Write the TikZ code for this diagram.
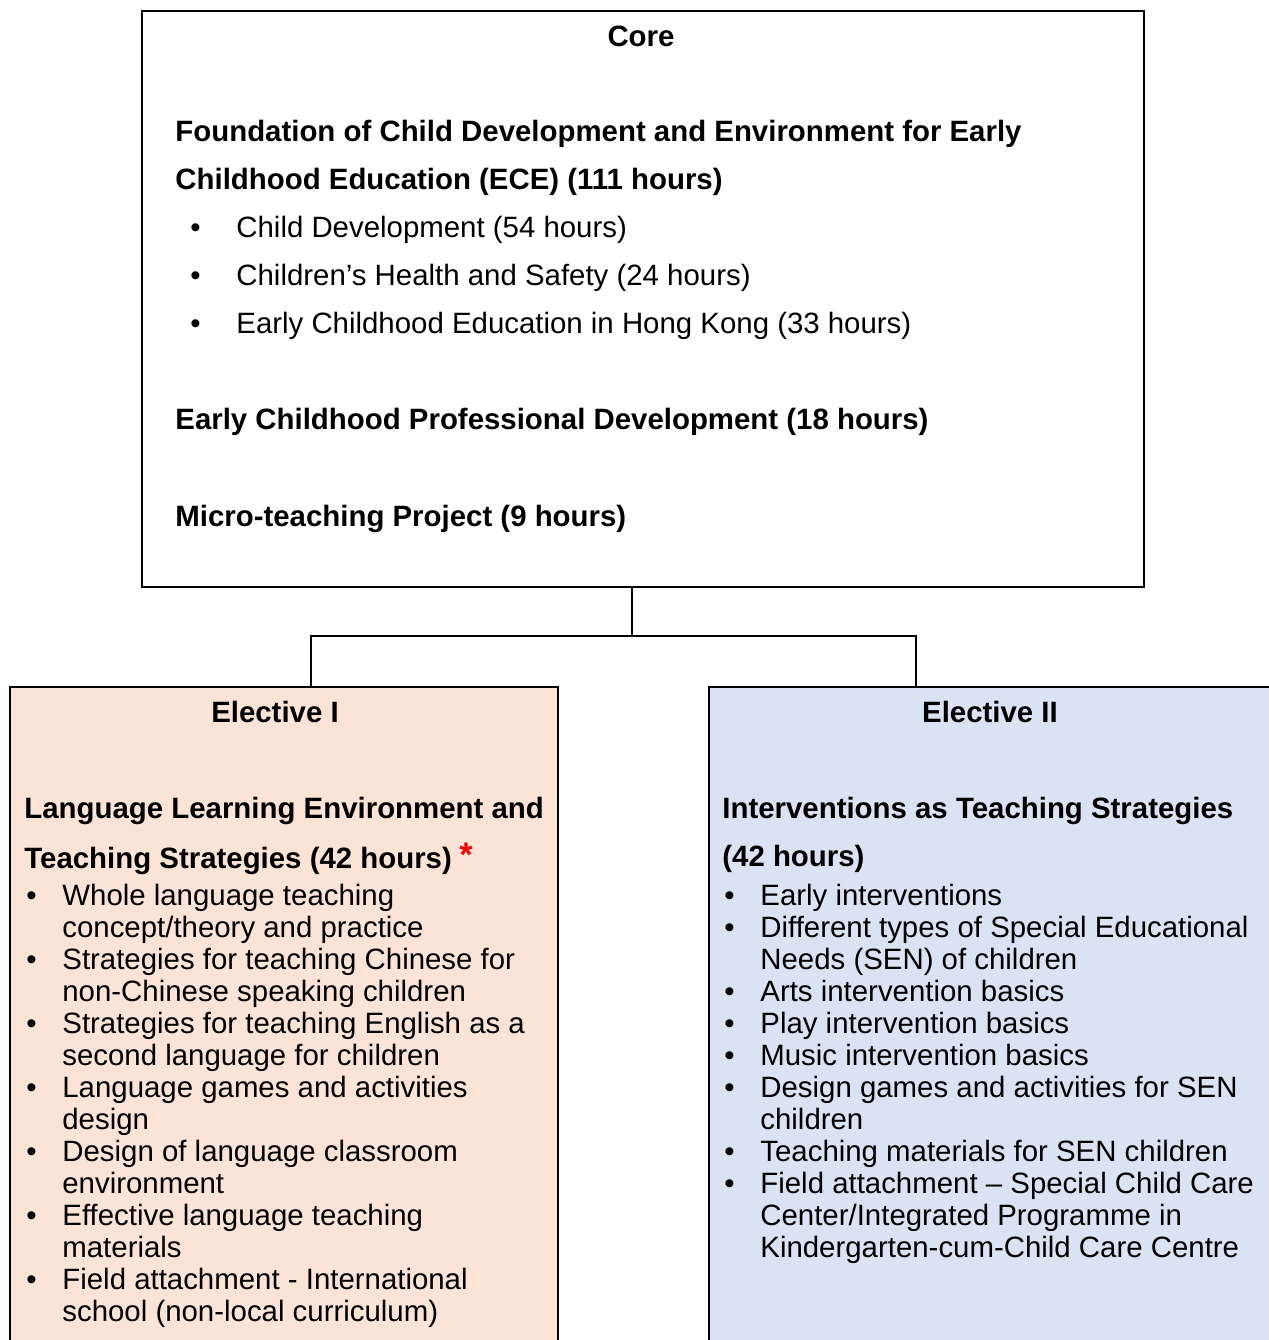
\documentclass[tikz,border=0pt]{standalone}
\usepackage{fontspec}
\setmainfont{Liberation Sans}
\usetikzlibrary{positioning}
\definecolor{peach}{HTML}{FBE4D5}
\definecolor{paleblue}{HTML}{DAE3F3}

\begin{document}
\begin{tikzpicture}[x=0.5pt,y=-0.5pt]
\tikzstyle{every node}=[font=\fontsize{14.7}{16}\selectfont]
% multi-line nodes sit on the baseline of their last line
\tikzstyle{txt}=[anchor=base west,inner sep=0,align=left]
\tikzstyle{hd}=[txt,font=\fontsize{14.7}{16}\selectfont\bfseries]
\tikzstyle{ttl}=[anchor=base,inner sep=0,font=\fontsize{14.7}{16}\selectfont\bfseries]
\tikzstyle{box}=[draw,line width=0.9pt,anchor=north west,inner sep=0]
\tikzstyle{conn}=[line width=0.7pt]

\useasboundingbox (0,0) rectangle (1269,1340);
\begin{scope}
\clip (0,0) rectangle (1269,1340);
% boxes
\node (core) [box,minimum width=501pt,minimum height=288pt] at (141,10) {};
\node (el1) [box,fill=peach,minimum width=274pt,minimum height=350pt] at (9,686) {};
\node (el2) [box,fill=paleblue,minimum width=290pt,minimum height=350pt] at (708,686) {};
\end{scope}

% connectors
\coordinate (fork) at (632,636);
\coordinate (l) at (311,686);
\coordinate (r) at (916,686);
\draw[conn] (fork |- core.south) -- (fork);
\draw[conn] (l) -- (l |- fork) -- (r |- fork) -- (r);

% core
\node (coret) [ttl] at (641,46) {Core};
\node (f1) [hd] at (175,141) {Foundation of Child Development and Environment for Early};
\node (f2) [hd] at (175,189) {Childhood Education (ECE) (111 hours)};
\node (cb1) [txt] at (190,237) {•};
\node (c1) [txt] at (236,237) {Child Development (54 hours)};
\node (cb2) [txt] at (190,285) {•};
\node (c2) [txt] at (236,285) {Children’s Health and Safety (24 hours)};
\node (cb3) [txt] at (190,333) {•};
\node (c3) [txt] at (236,333) {Early Childhood Education in Hong Kong (33 hours)};
\node (p1) [hd] at (175,429) {Early Childhood Professional Development (18 hours)};
\node (m1) [hd] at (175,526) {Micro-teaching Project (9 hours)};

% elective I
\node (e1t) [ttl] at (275,722) {Elective I};
\node (e1h1) [hd] at (24,818) {Language Learning Environment and};
\node (e1h2) [hd] at (24,868) {Teaching Strategies (42 hours)};
\node (star) [txt,text=red,font=\fontsize{17}{16}\selectfont\bfseries] at (459,866) {*};
\node (lb1) [txt] at (26,905) {•};
\node (l1) [txt] at (62,937) {Whole language teaching\\concept/theory and practice};
\node (lb2) [txt] at (26,969) {•};
\node (l2) [txt] at (62,1001) {Strategies for teaching Chinese for\\non-Chinese speaking children};
\node (lb3) [txt] at (26,1033) {•};
\node (l3) [txt] at (62,1065) {Strategies for teaching English as a\\second language for children};
\node (lb4) [txt] at (26,1097) {•};
\node (l4) [txt] at (62,1129) {Language games and activities\\design};
\node (lb5) [txt] at (26,1161) {•};
\node (l5) [txt] at (62,1193) {Design of language classroom\\environment};
\node (lb6) [txt] at (26,1225) {•};
\node (l6) [txt] at (62,1257) {Effective language teaching\\materials};
\node (lb7) [txt] at (26,1289) {•};
\node (l7) [txt] at (62,1321) {Field attachment - International\\school (non-local curriculum)};

% elective II
\node (e2t) [ttl] at (990,722) {Elective II};
\node (e2h1) [hd] at (722,818) {Interventions as Teaching Strategies};
\node (e2h2) [hd] at (722,866) {(42 hours)};
\node (rb1) [txt] at (724,905) {•};
\node (r1) [txt] at (760,905) {Early interventions};
\node (rb2) [txt] at (724,937) {•};
\node (r2) [txt] at (760,969) {Different types of Special Educational\\Needs (SEN) of children};
\node (rb3) [txt] at (724,1001) {•};
\node (r3) [txt] at (760,1001) {Arts intervention basics};
\node (rb4) [txt] at (724,1033) {•};
\node (r4) [txt] at (760,1033) {Play intervention basics};
\node (rb5) [txt] at (724,1065) {•};
\node (r5) [txt] at (760,1065) {Music intervention basics};
\node (rb6) [txt] at (724,1097) {•};
\node (r6) [txt] at (760,1129) {Design games and activities for SEN\\children};
\node (rb7) [txt] at (724,1161) {•};
\node (r7) [txt] at (760,1161) {Teaching materials for SEN children};
\node (rb8) [txt] at (724,1193) {•};
\node (r8) [txt] at (760,1257) {Field attachment – Special Child Care\\Center/Integrated Programme in\\Kindergarten-cum-Child Care Centre};
\end{tikzpicture}
\end{document}
